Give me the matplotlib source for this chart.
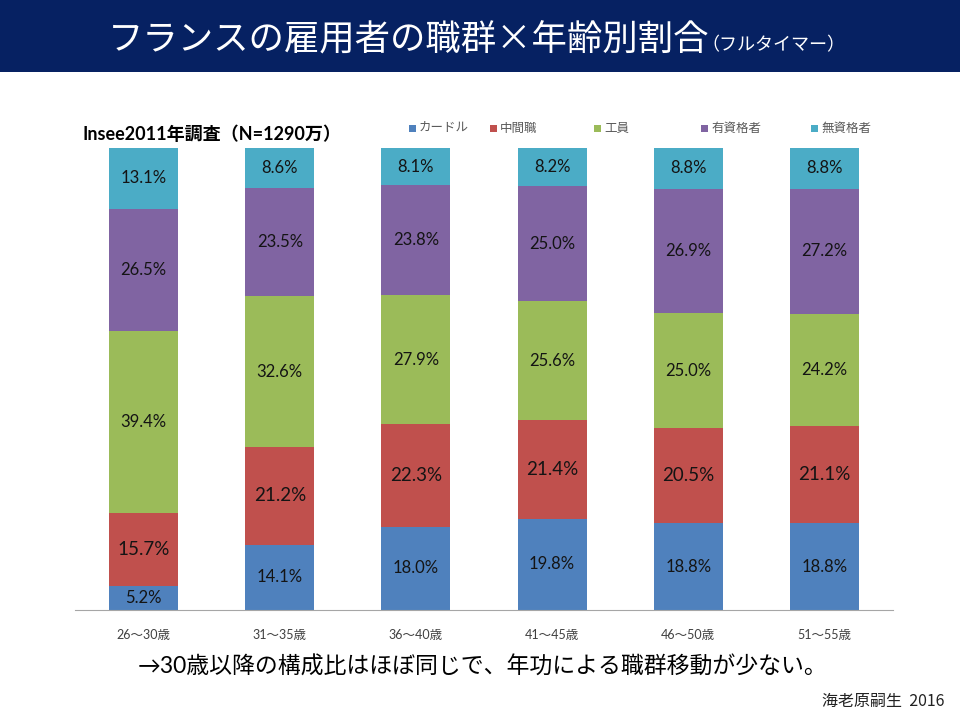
import numpy as np
import matplotlib.pyplot as plt
from matplotlib.patches import Rectangle

# data (percent)
ages = ['26～30歳', '31～35歳', '36～40歳', '41～45歳', '46～50歳', '51～55歳']
series = ['カードル', '中間職', '工員', '有資格者', '無資格者']
cadre = [5.2, 14.1, 18.0, 19.8, 18.8, 18.8]
middle = [15.7, 21.2, 22.3, 21.4, 20.5, 21.1]
worker = [39.4, 32.6, 27.9, 25.6, 25.0, 24.2]
skilled = [26.5, 23.5, 23.8, 25.0, 26.9, 27.2]
unskilled = [13.1, 8.6, 8.1, 8.2, 8.8, 8.8]

colors = ['#4F81BD', '#C0504D', '#9BBB59', '#8064A2', '#4BACC6']
label_sizes = [12, 13.5, 12, 12, 12]

latin = ['Lato', 'Noto Sans CJK JP']
jp = ['Noto Sans CJK JP', 'DejaVu Sans']
plt.rcParams['font.family'] = jp

fig = plt.figure(figsize=(9.6, 7.2), dpi=100)

# navy title banner
fig.patches.append(Rectangle((0, 1 - 72 / 720), 1, 72 / 720, transform=fig.transFigure,
                             facecolor='#062162', edgecolor='none', zorder=0))
fig.text(108 / 960, 1 - 41 / 720, 'フランスの雇用者の職群×年齢別割合', color='white',
         fontsize=25.5, va='center', ha='left', family=jp)
fig.text(701 / 960, 1 - 45 / 720, '（フルタイマー）', color='white',
         fontsize=13, va='center', ha='left', family=jp)

ax = fig.add_axes([75.5 / 960, 1 - 610 / 720, 817 / 960, 462 / 720])

data = np.array([cadre, middle, worker, skilled, unskilled])
shares = data / data.sum(axis=0) * 100
x = np.arange(len(ages))
bottom = np.zeros(len(ages))
for i, name in enumerate(series):
    ax.bar(x, shares[i], bottom=bottom, width=0.507, color=colors[i], label=name)
    for j in range(len(ages)):
        ax.text(x[j], bottom[j] + shares[i][j] / 2, f'{data[i][j]:.1f}%',
                ha='center', va='center', fontsize=label_sizes[i],
                color='#141414', family=latin)
    bottom += shares[i]

ax.set_xlim(-0.5, len(ages) - 0.5)
ax.set_ylim(0, 100)
ax.set_yticks([])
ax.set_xticks(x)
ax.set_xticklabels(ages, fontsize=9, color='#404040', family=latin)
ax.tick_params(axis='x', length=0, pad=14)
for s in ['top', 'right', 'left']:
    ax.spines[s].set_visible(False)
ax.spines['bottom'].set_color('#A6A6A6')

# legend drawn as small squares with text
leg_x = [413, 494, 598, 705, 815]
for i, name in enumerate(series):
    fig.patches.append(Rectangle(((leg_x[i] - 4) / 960, 1 - 132 / 720), 7 / 960, 7 / 720,
                                 transform=fig.transFigure, facecolor=colors[i],
                                 edgecolor='none'))
    fig.text((leg_x[i] + 6) / 960, 1 - 128 / 720, name, fontsize=9, color='#595959',
             va='center', ha='left', family=jp)

fig.text(82 / 960, 1 - 134 / 720, 'Insee2011年調査（N=1290万）', fontsize=13,
         fontweight='bold', va='center', ha='left', family=latin)

fig.text(138 / 960, 1 - 667 / 720, '→30歳以降の構成比はほぼ同じで、年功による職群移動が少ない。',
         fontsize=16.5, va='center', ha='left', family=latin)
fig.text(945 / 960, 1 - 701 / 720, '海老原嗣生  2016', fontsize=11.5, va='center',
         ha='right', family=jp, color='#222222')

fig.savefig('out.png', dpi=100)
